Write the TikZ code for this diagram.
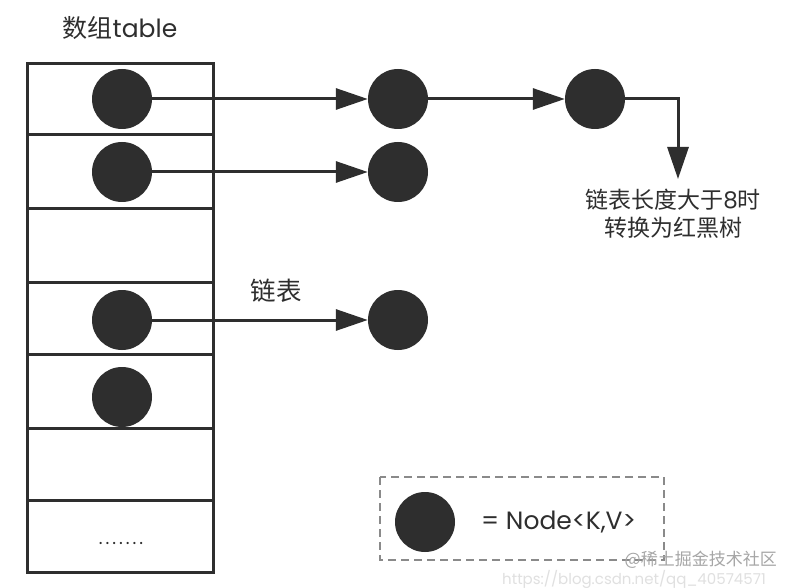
\documentclass[tikz,border=0pt]{standalone}
\usepackage{fontspec}
\setmainfont{Poppins}
\newfontfamily\cjk{Noto Sans CJK SC}
\usetikzlibrary{arrows.meta}
\definecolor{ink}{HTML}{2E2E2E}
\definecolor{dashgray}{HTML}{8A8A8A}
\tikzset{
  dot/.style={circle,fill=ink,draw=none,minimum size=60pt,inner sep=0pt},
  arr/.style={draw=ink,line width=3pt,-{Triangle[length=32pt,width=21pt]}},
  tablebox/.style={draw=ink,line width=3pt},
  lbl/.style={text=ink,inner sep=0pt,align=center},
}
\begin{document}
\begin{tikzpicture}[x=1pt,y=-1pt]
\useasboundingbox (0,0) rectangle (795,588);
\fill[white] (0,0) rectangle (795,588);
% table
\draw[tablebox] (27,64) rectangle (213,572);
\foreach \yy in {135,209,282,354,428,500} \draw[tablebox] (27,\yy) -- (213,\yy);
\node[lbl,font=\fontsize{25}{30}\selectfont] (title) at (120,28) {{\cjk 数组}table};
\node[lbl,font=\fontsize{18}{18}\selectfont,anchor=base] (dots) at (121,544) {.\kern3pt.\kern3pt.\kern3pt.\kern3pt.\kern3pt.\kern3pt.};
% bucket nodes
\node[dot] (a1) at (122,99) {};
\node[dot] (a2) at (122,172) {};
\node[dot] (a4) at (122,320) {};
\node[dot] (a5) at (122,397) {};
% chain nodes
\node[dot] (b1) at (398,99) {};
\node[dot] (c1) at (595,99) {};
\node[dot] (b2) at (398,172) {};
\node[dot] (b4) at (398,320) {};
\draw[arr] (a1) -- (b1);
\draw[arr] (b1) -- (c1);
\draw[arr] (a2) -- (b2);
\draw[arr] (a4) -- (b4);
\coordinate (tend) at (678,179);
\draw[arr] (c1) -| (tend);
\node[lbl,font=\cjk\fontsize{23}{28}\selectfont] (conv) at (673,214) {链表长度大于{\fontspec{Poppins}8}时\\转换为红黑树};
\node[lbl,font=\cjk\fontsize{25.5}{30}\selectfont] (chain) at (276,291) {链表};
% legend
\draw[dashgray,line width=2.5pt,dash pattern=on 8pt off 5pt] (380,477) rectangle (664,560);
\node[dot] (ld) at (425,522) {};
\node[lbl,font=\fontsize{25}{28}\selectfont,anchor=west] (lt) at (481,522) {= Node<K,V>};
% watermark
\node[font=\cjk\fontsize{17}{20}\selectfont,text=black!35,anchor=east,inner sep=0pt] (wm1) at (777,560) {@稀土掘金技术社区};
\node[font=\fontsize{15}{18}\selectfont,text=black!12,anchor=east,inner sep=0pt] (wm2) at (766,579) {https://blog.csdn.net/qq\_40574571};
\end{tikzpicture}
\end{document}
